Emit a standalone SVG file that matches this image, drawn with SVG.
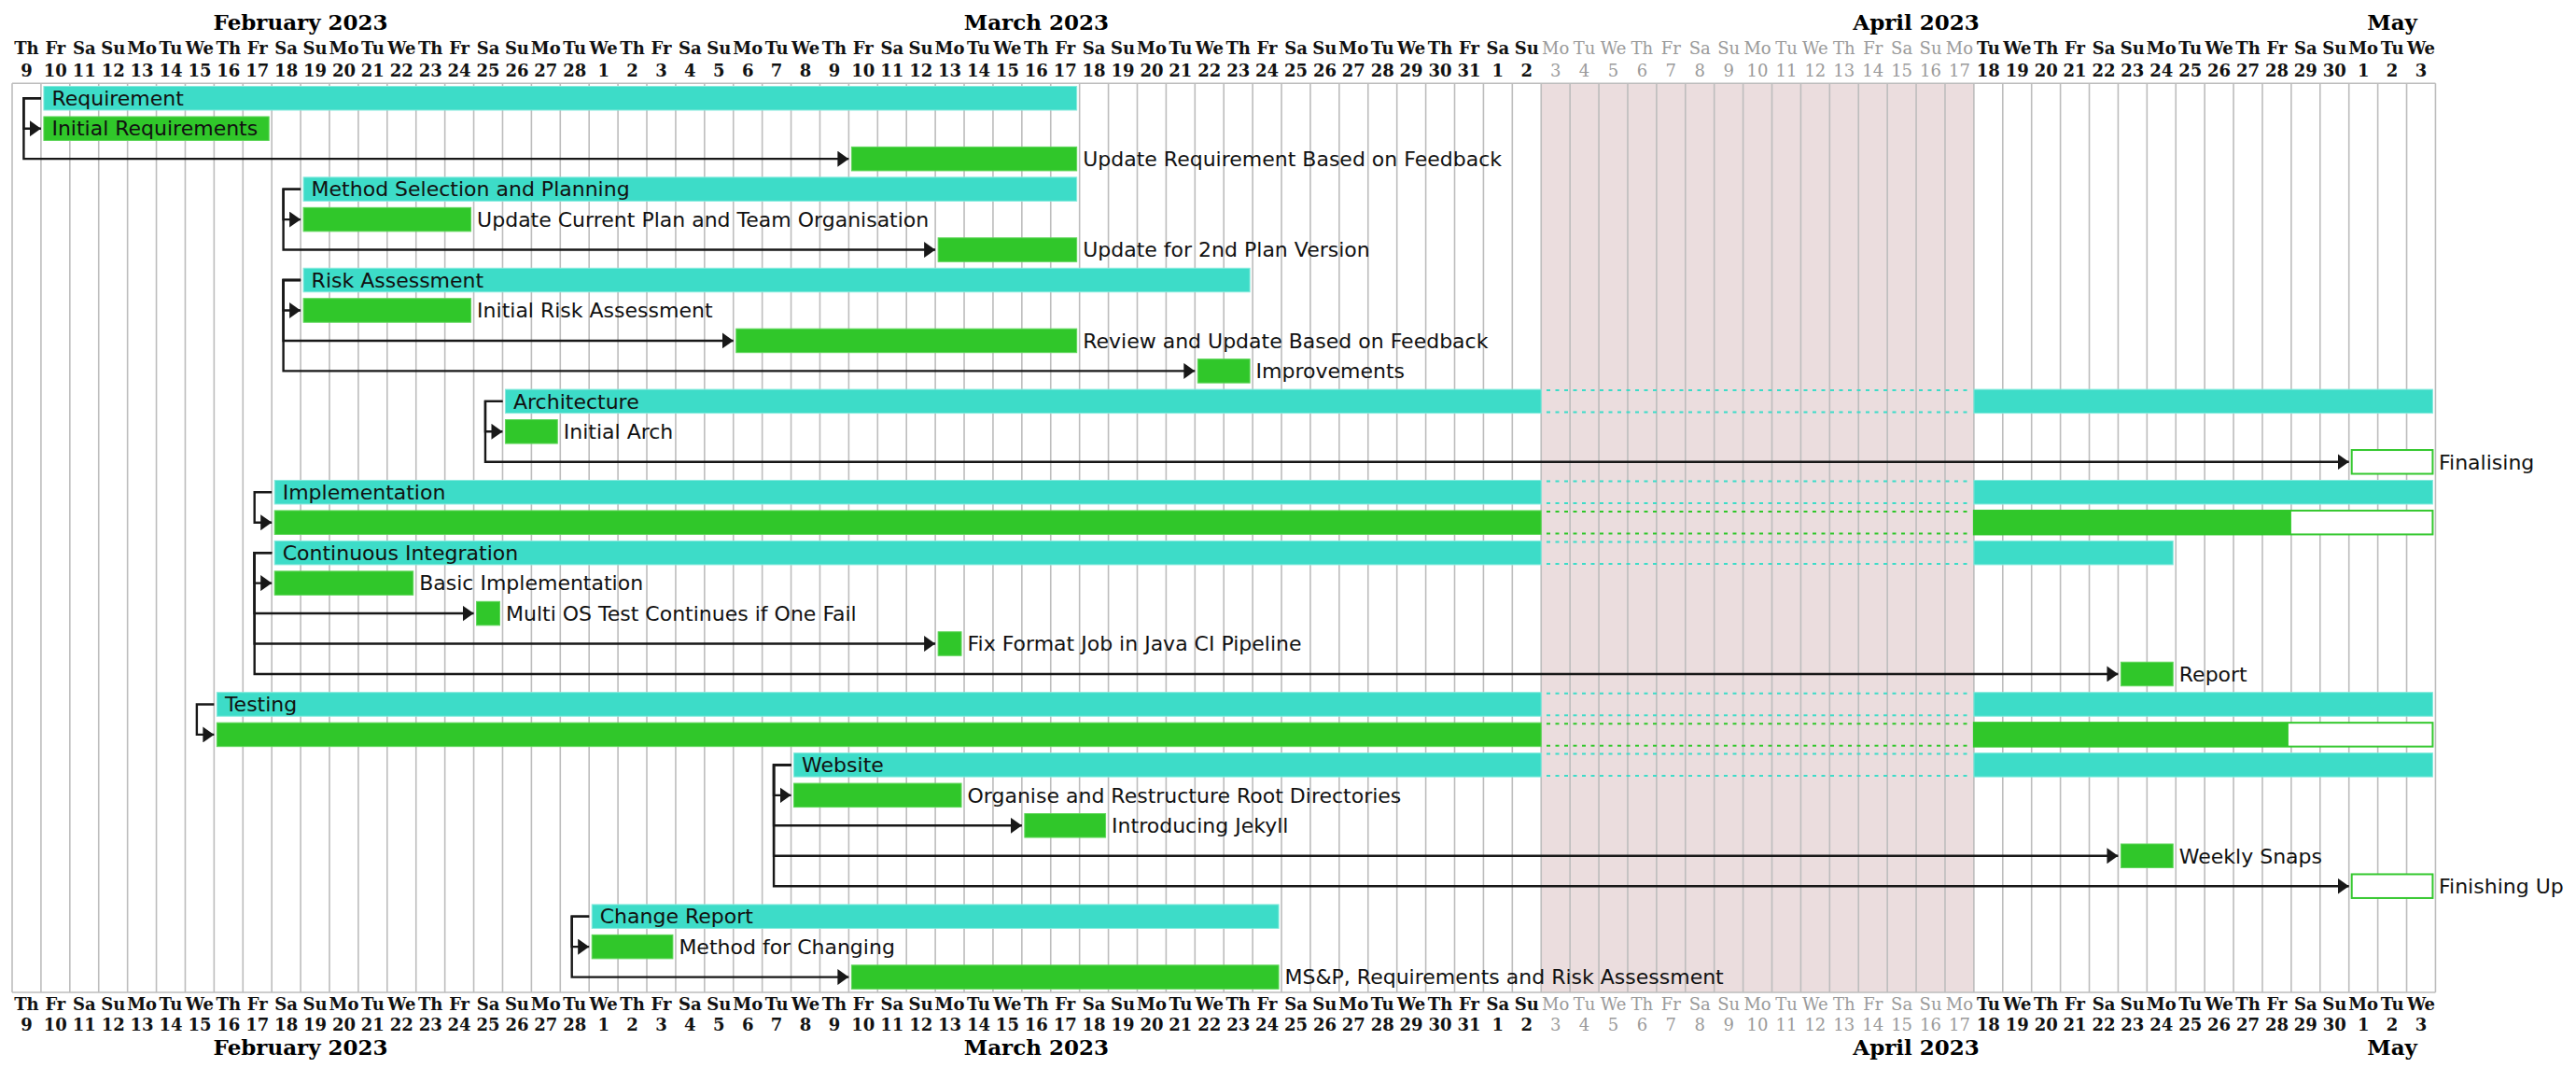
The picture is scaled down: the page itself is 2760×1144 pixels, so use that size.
<svg xmlns="http://www.w3.org/2000/svg" width="2760" height="1144" viewBox="0 0 2760 1144">
<style>
.m{font-family:"DejaVu Serif",serif;font-weight:bold;font-size:23px;text-anchor:middle;fill:#000}
.d{font-family:"DejaVu Serif",serif;font-weight:bold;font-size:18px;text-anchor:middle;fill:#111}
.dg{font-family:"DejaVu Serif",serif;font-size:18px;text-anchor:middle;fill:#9a9a9a}
.t{font-family:"DejaVu Sans",sans-serif;font-size:22px;fill:#111}
.p{fill:#3DDCC8;stroke:#86EADD;stroke-width:1}
.c{fill:#30C72A;stroke:#5FD65A;stroke-width:1}
.u{fill:#fff;stroke:#35C82F;stroke-width:2}
.dp{stroke:#3DDCC8;stroke-width:2;stroke-dasharray:4 5.5;fill:none}
.dc{stroke:#30C72A;stroke-width:2;stroke-dasharray:4 5.5;fill:none}
.ln{fill:none;stroke:#181818;stroke-width:2.4;marker-end:url(#ah)}
.grid{fill:none;stroke:#BDBDBD;stroke-width:1.6}
</style>
<defs>
<marker id="ah" viewBox="0 0 12 17" refX="12" refY="8.5" markerWidth="12" markerHeight="17" markerUnits="userSpaceOnUse" orient="auto"><path d="M0 0L12 8.5L0 17z" fill="#181818"/></marker>
</defs>
<rect x="0" y="0" width="2760" height="1144" fill="#fff"/>
<g id="calendar">
<rect x="1651.23" y="89.3" width="463.65" height="973.7" fill="#EBDDDE"/>
<path class="grid" d="M13 89.3V1063M43.91 89.3V1063M74.82 89.3V1063M105.73 89.3V1063M136.64 89.3V1063M167.55 89.3V1063M198.46 89.3V1063M229.37 89.3V1063M260.28 89.3V1063M291.19 89.3V1063M322.1 89.3V1063M353.01 89.3V1063M383.92 89.3V1063M414.83 89.3V1063M445.74 89.3V1063M476.65 89.3V1063M507.56 89.3V1063M538.47 89.3V1063M569.38 89.3V1063M600.29 89.3V1063M631.2 89.3V1063M662.11 89.3V1063M693.02 89.3V1063M723.93 89.3V1063M754.84 89.3V1063M785.75 89.3V1063M816.66 89.3V1063M847.57 89.3V1063M878.48 89.3V1063M909.39 89.3V1063M940.3 89.3V1063M971.21 89.3V1063M1002.12 89.3V1063M1033.03 89.3V1063M1063.94 89.3V1063M1094.85 89.3V1063M1125.76 89.3V1063M1156.67 89.3V1063M1187.58 89.3V1063M1218.49 89.3V1063M1249.4 89.3V1063M1280.31 89.3V1063M1311.22 89.3V1063M1342.13 89.3V1063M1373.04 89.3V1063M1403.95 89.3V1063M1434.86 89.3V1063M1465.77 89.3V1063M1496.68 89.3V1063M1527.59 89.3V1063M1558.5 89.3V1063M1589.41 89.3V1063M1620.32 89.3V1063M1651.23 89.3V1063M1682.14 89.3V1063M1713.05 89.3V1063M1743.96 89.3V1063M1774.87 89.3V1063M1805.78 89.3V1063M1836.69 89.3V1063M1867.6 89.3V1063M1898.51 89.3V1063M1929.42 89.3V1063M1960.33 89.3V1063M1991.24 89.3V1063M2022.15 89.3V1063M2053.06 89.3V1063M2083.97 89.3V1063M2114.88 89.3V1063M2145.79 89.3V1063M2176.7 89.3V1063M2207.61 89.3V1063M2238.52 89.3V1063M2269.43 89.3V1063M2300.34 89.3V1063M2331.25 89.3V1063M2362.16 89.3V1063M2393.07 89.3V1063M2423.98 89.3V1063M2454.89 89.3V1063M2485.8 89.3V1063M2516.71 89.3V1063M2547.62 89.3V1063M2578.53 89.3V1063M2609.44 89.3V1063M13 89.3H2609.44M13 1063H2609.44"/>
<text class="m" y="31.5"><tspan x="322.1">February 2023</tspan><tspan x="1110.3">March 2023</tspan><tspan x="2053.06">April 2023</tspan><tspan x="2563.08">May</tspan></text>
<text class="d" y="58.3"><tspan x="28.46">Th</tspan><tspan x="59.37">Fr</tspan><tspan x="90.28">Sa</tspan><tspan x="121.19">Su</tspan><tspan x="152.1">Mo</tspan><tspan x="183.01">Tu</tspan><tspan x="213.92">We</tspan><tspan x="244.83">Th</tspan><tspan x="275.74">Fr</tspan><tspan x="306.65">Sa</tspan><tspan x="337.56">Su</tspan><tspan x="368.47">Mo</tspan><tspan x="399.38">Tu</tspan><tspan x="430.29">We</tspan><tspan x="461.2">Th</tspan><tspan x="492.11">Fr</tspan><tspan x="523.02">Sa</tspan><tspan x="553.93">Su</tspan><tspan x="584.84">Mo</tspan><tspan x="615.75">Tu</tspan><tspan x="646.66">We</tspan><tspan x="677.57">Th</tspan><tspan x="708.48">Fr</tspan><tspan x="739.39">Sa</tspan><tspan x="770.3">Su</tspan><tspan x="801.21">Mo</tspan><tspan x="832.12">Tu</tspan><tspan x="863.03">We</tspan><tspan x="893.94">Th</tspan><tspan x="924.85">Fr</tspan><tspan x="955.76">Sa</tspan><tspan x="986.67">Su</tspan><tspan x="1017.58">Mo</tspan><tspan x="1048.49">Tu</tspan><tspan x="1079.4">We</tspan><tspan x="1110.31">Th</tspan><tspan x="1141.22">Fr</tspan><tspan x="1172.13">Sa</tspan><tspan x="1203.04">Su</tspan><tspan x="1233.95">Mo</tspan><tspan x="1264.86">Tu</tspan><tspan x="1295.77">We</tspan><tspan x="1326.68">Th</tspan><tspan x="1357.59">Fr</tspan><tspan x="1388.5">Sa</tspan><tspan x="1419.41">Su</tspan><tspan x="1450.32">Mo</tspan><tspan x="1481.23">Tu</tspan><tspan x="1512.14">We</tspan><tspan x="1543.05">Th</tspan><tspan x="1573.96">Fr</tspan><tspan x="1604.87">Sa</tspan><tspan x="1635.78">Su</tspan><tspan x="2130.34">Tu</tspan><tspan x="2161.25">We</tspan><tspan x="2192.16">Th</tspan><tspan x="2223.07">Fr</tspan><tspan x="2253.98">Sa</tspan><tspan x="2284.89">Su</tspan><tspan x="2315.8">Mo</tspan><tspan x="2346.71">Tu</tspan><tspan x="2377.62">We</tspan><tspan x="2408.53">Th</tspan><tspan x="2439.44">Fr</tspan><tspan x="2470.35">Sa</tspan><tspan x="2501.26">Su</tspan><tspan x="2532.17">Mo</tspan><tspan x="2563.08">Tu</tspan><tspan x="2593.99">We</tspan></text>
<text class="dg" y="58.3"><tspan x="1666.69">Mo</tspan><tspan x="1697.6">Tu</tspan><tspan x="1728.51">We</tspan><tspan x="1759.42">Th</tspan><tspan x="1790.33">Fr</tspan><tspan x="1821.24">Sa</tspan><tspan x="1852.15">Su</tspan><tspan x="1883.06">Mo</tspan><tspan x="1913.97">Tu</tspan><tspan x="1944.88">We</tspan><tspan x="1975.79">Th</tspan><tspan x="2006.7">Fr</tspan><tspan x="2037.61">Sa</tspan><tspan x="2068.52">Su</tspan><tspan x="2099.43">Mo</tspan></text>
<text class="d" y="81.7"><tspan x="28.46">9</tspan><tspan x="59.37">10</tspan><tspan x="90.28">11</tspan><tspan x="121.19">12</tspan><tspan x="152.1">13</tspan><tspan x="183.01">14</tspan><tspan x="213.92">15</tspan><tspan x="244.83">16</tspan><tspan x="275.74">17</tspan><tspan x="306.65">18</tspan><tspan x="337.56">19</tspan><tspan x="368.47">20</tspan><tspan x="399.38">21</tspan><tspan x="430.29">22</tspan><tspan x="461.2">23</tspan><tspan x="492.11">24</tspan><tspan x="523.02">25</tspan><tspan x="553.93">26</tspan><tspan x="584.84">27</tspan><tspan x="615.75">28</tspan><tspan x="646.66">1</tspan><tspan x="677.57">2</tspan><tspan x="708.48">3</tspan><tspan x="739.39">4</tspan><tspan x="770.3">5</tspan><tspan x="801.21">6</tspan><tspan x="832.12">7</tspan><tspan x="863.03">8</tspan><tspan x="893.94">9</tspan><tspan x="924.85">10</tspan><tspan x="955.76">11</tspan><tspan x="986.67">12</tspan><tspan x="1017.58">13</tspan><tspan x="1048.49">14</tspan><tspan x="1079.4">15</tspan><tspan x="1110.31">16</tspan><tspan x="1141.22">17</tspan><tspan x="1172.13">18</tspan><tspan x="1203.04">19</tspan><tspan x="1233.95">20</tspan><tspan x="1264.86">21</tspan><tspan x="1295.77">22</tspan><tspan x="1326.68">23</tspan><tspan x="1357.59">24</tspan><tspan x="1388.5">25</tspan><tspan x="1419.41">26</tspan><tspan x="1450.32">27</tspan><tspan x="1481.23">28</tspan><tspan x="1512.14">29</tspan><tspan x="1543.05">30</tspan><tspan x="1573.96">31</tspan><tspan x="1604.87">1</tspan><tspan x="1635.78">2</tspan><tspan x="2130.34">18</tspan><tspan x="2161.25">19</tspan><tspan x="2192.16">20</tspan><tspan x="2223.07">21</tspan><tspan x="2253.98">22</tspan><tspan x="2284.89">23</tspan><tspan x="2315.8">24</tspan><tspan x="2346.71">25</tspan><tspan x="2377.62">26</tspan><tspan x="2408.53">27</tspan><tspan x="2439.44">28</tspan><tspan x="2470.35">29</tspan><tspan x="2501.26">30</tspan><tspan x="2532.17">1</tspan><tspan x="2563.08">2</tspan><tspan x="2593.99">3</tspan></text>
<text class="dg" y="81.7"><tspan x="1666.69">3</tspan><tspan x="1697.6">4</tspan><tspan x="1728.51">5</tspan><tspan x="1759.42">6</tspan><tspan x="1790.33">7</tspan><tspan x="1821.24">8</tspan><tspan x="1852.15">9</tspan><tspan x="1883.06">10</tspan><tspan x="1913.97">11</tspan><tspan x="1944.88">12</tspan><tspan x="1975.79">13</tspan><tspan x="2006.7">14</tspan><tspan x="2037.61">15</tspan><tspan x="2068.52">16</tspan><tspan x="2099.43">17</tspan></text>
<text class="d" y="1081.7"><tspan x="28.46">Th</tspan><tspan x="59.37">Fr</tspan><tspan x="90.28">Sa</tspan><tspan x="121.19">Su</tspan><tspan x="152.1">Mo</tspan><tspan x="183.01">Tu</tspan><tspan x="213.92">We</tspan><tspan x="244.83">Th</tspan><tspan x="275.74">Fr</tspan><tspan x="306.65">Sa</tspan><tspan x="337.56">Su</tspan><tspan x="368.47">Mo</tspan><tspan x="399.38">Tu</tspan><tspan x="430.29">We</tspan><tspan x="461.2">Th</tspan><tspan x="492.11">Fr</tspan><tspan x="523.02">Sa</tspan><tspan x="553.93">Su</tspan><tspan x="584.84">Mo</tspan><tspan x="615.75">Tu</tspan><tspan x="646.66">We</tspan><tspan x="677.57">Th</tspan><tspan x="708.48">Fr</tspan><tspan x="739.39">Sa</tspan><tspan x="770.3">Su</tspan><tspan x="801.21">Mo</tspan><tspan x="832.12">Tu</tspan><tspan x="863.03">We</tspan><tspan x="893.94">Th</tspan><tspan x="924.85">Fr</tspan><tspan x="955.76">Sa</tspan><tspan x="986.67">Su</tspan><tspan x="1017.58">Mo</tspan><tspan x="1048.49">Tu</tspan><tspan x="1079.4">We</tspan><tspan x="1110.31">Th</tspan><tspan x="1141.22">Fr</tspan><tspan x="1172.13">Sa</tspan><tspan x="1203.04">Su</tspan><tspan x="1233.95">Mo</tspan><tspan x="1264.86">Tu</tspan><tspan x="1295.77">We</tspan><tspan x="1326.68">Th</tspan><tspan x="1357.59">Fr</tspan><tspan x="1388.5">Sa</tspan><tspan x="1419.41">Su</tspan><tspan x="1450.32">Mo</tspan><tspan x="1481.23">Tu</tspan><tspan x="1512.14">We</tspan><tspan x="1543.05">Th</tspan><tspan x="1573.96">Fr</tspan><tspan x="1604.87">Sa</tspan><tspan x="1635.78">Su</tspan><tspan x="2130.34">Tu</tspan><tspan x="2161.25">We</tspan><tspan x="2192.16">Th</tspan><tspan x="2223.07">Fr</tspan><tspan x="2253.98">Sa</tspan><tspan x="2284.89">Su</tspan><tspan x="2315.8">Mo</tspan><tspan x="2346.71">Tu</tspan><tspan x="2377.62">We</tspan><tspan x="2408.53">Th</tspan><tspan x="2439.44">Fr</tspan><tspan x="2470.35">Sa</tspan><tspan x="2501.26">Su</tspan><tspan x="2532.17">Mo</tspan><tspan x="2563.08">Tu</tspan><tspan x="2593.99">We</tspan></text>
<text class="dg" y="1081.7"><tspan x="1666.69">Mo</tspan><tspan x="1697.6">Tu</tspan><tspan x="1728.51">We</tspan><tspan x="1759.42">Th</tspan><tspan x="1790.33">Fr</tspan><tspan x="1821.24">Sa</tspan><tspan x="1852.15">Su</tspan><tspan x="1883.06">Mo</tspan><tspan x="1913.97">Tu</tspan><tspan x="1944.88">We</tspan><tspan x="1975.79">Th</tspan><tspan x="2006.7">Fr</tspan><tspan x="2037.61">Sa</tspan><tspan x="2068.52">Su</tspan><tspan x="2099.43">Mo</tspan></text>
<text class="d" y="1104"><tspan x="28.46">9</tspan><tspan x="59.37">10</tspan><tspan x="90.28">11</tspan><tspan x="121.19">12</tspan><tspan x="152.1">13</tspan><tspan x="183.01">14</tspan><tspan x="213.92">15</tspan><tspan x="244.83">16</tspan><tspan x="275.74">17</tspan><tspan x="306.65">18</tspan><tspan x="337.56">19</tspan><tspan x="368.47">20</tspan><tspan x="399.38">21</tspan><tspan x="430.29">22</tspan><tspan x="461.2">23</tspan><tspan x="492.11">24</tspan><tspan x="523.02">25</tspan><tspan x="553.93">26</tspan><tspan x="584.84">27</tspan><tspan x="615.75">28</tspan><tspan x="646.66">1</tspan><tspan x="677.57">2</tspan><tspan x="708.48">3</tspan><tspan x="739.39">4</tspan><tspan x="770.3">5</tspan><tspan x="801.21">6</tspan><tspan x="832.12">7</tspan><tspan x="863.03">8</tspan><tspan x="893.94">9</tspan><tspan x="924.85">10</tspan><tspan x="955.76">11</tspan><tspan x="986.67">12</tspan><tspan x="1017.58">13</tspan><tspan x="1048.49">14</tspan><tspan x="1079.4">15</tspan><tspan x="1110.31">16</tspan><tspan x="1141.22">17</tspan><tspan x="1172.13">18</tspan><tspan x="1203.04">19</tspan><tspan x="1233.95">20</tspan><tspan x="1264.86">21</tspan><tspan x="1295.77">22</tspan><tspan x="1326.68">23</tspan><tspan x="1357.59">24</tspan><tspan x="1388.5">25</tspan><tspan x="1419.41">26</tspan><tspan x="1450.32">27</tspan><tspan x="1481.23">28</tspan><tspan x="1512.14">29</tspan><tspan x="1543.05">30</tspan><tspan x="1573.96">31</tspan><tspan x="1604.87">1</tspan><tspan x="1635.78">2</tspan><tspan x="2130.34">18</tspan><tspan x="2161.25">19</tspan><tspan x="2192.16">20</tspan><tspan x="2223.07">21</tspan><tspan x="2253.98">22</tspan><tspan x="2284.89">23</tspan><tspan x="2315.8">24</tspan><tspan x="2346.71">25</tspan><tspan x="2377.62">26</tspan><tspan x="2408.53">27</tspan><tspan x="2439.44">28</tspan><tspan x="2470.35">29</tspan><tspan x="2501.26">30</tspan><tspan x="2532.17">1</tspan><tspan x="2563.08">2</tspan><tspan x="2593.99">3</tspan></text>
<text class="dg" y="1104"><tspan x="1666.69">3</tspan><tspan x="1697.6">4</tspan><tspan x="1728.51">5</tspan><tspan x="1759.42">6</tspan><tspan x="1790.33">7</tspan><tspan x="1821.24">8</tspan><tspan x="1852.15">9</tspan><tspan x="1883.06">10</tspan><tspan x="1913.97">11</tspan><tspan x="1944.88">12</tspan><tspan x="1975.79">13</tspan><tspan x="2006.7">14</tspan><tspan x="2037.61">15</tspan><tspan x="2068.52">16</tspan><tspan x="2099.43">17</tspan></text>
<text class="m" y="1130"><tspan x="322.1">February 2023</tspan><tspan x="1110.3">March 2023</tspan><tspan x="2053.06">April 2023</tspan><tspan x="2563.08">May</tspan></text>
</g>
<g id="task-requirement"><rect class="p" x="46.91" y="92.5" width="1106.76" height="25.5"/><text class="t" x="55.4" y="113">Requirement</text></g>
<g id="task-initial-requirements"><rect class="c" x="46.91" y="124.96" width="241.28" height="25.5"/><text class="t" x="55.4" y="145.46">Initial Requirements</text></g>
<g id="task-update-requirement"><rect class="c" x="912.39" y="157.42" width="241.28" height="25.5"/><text class="t" x="1160.2" y="177.92">Update Requirement Based on Feedback</text></g>
<g id="task-method-selection"><rect class="p" x="325.1" y="189.88" width="828.57" height="25.5"/><text class="t" x="333.6" y="210.38">Method Selection and Planning</text></g>
<g id="task-update-current-plan"><rect class="c" x="325.1" y="222.34" width="179.46" height="25.5"/><text class="t" x="511.1" y="242.84">Update Current Plan and Team Organisation</text></g>
<g id="task-update-2nd-plan"><rect class="c" x="1005.12" y="254.8" width="148.55" height="25.5"/><text class="t" x="1160.2" y="275.3">Update for 2nd Plan Version</text></g>
<g id="task-risk-assessment"><rect class="p" x="325.1" y="287.26" width="1014.03" height="25.5"/><text class="t" x="333.6" y="307.76">Risk Assessment</text></g>
<g id="task-initial-risk"><rect class="c" x="325.1" y="319.72" width="179.46" height="25.5"/><text class="t" x="511.1" y="340.22">Initial Risk Assessment</text></g>
<g id="task-review-update"><rect class="c" x="788.75" y="352.18" width="364.92" height="25.5"/><text class="t" x="1160.2" y="372.68">Review and Update Based on Feedback</text></g>
<g id="task-improvements"><rect class="c" x="1283.31" y="384.64" width="55.82" height="25.5"/><text class="t" x="1345.6" y="405.14">Improvements</text></g>
<g id="task-architecture"><rect class="p" x="541.47" y="417.1" width="1109.76" height="25.5"/><path class="dp" d="M1657 418.1H2109M1657 441.6H2109"/><rect class="p" x="2114.88" y="417.1" width="491.56" height="25.5"/><text class="t" x="550" y="437.6">Architecture</text></g>
<g id="task-initial-arch"><rect class="c" x="541.47" y="449.56" width="55.82" height="25.5"/><text class="t" x="603.8" y="470.06">Initial Arch</text></g>
<g id="task-finalising"><rect class="u" x="2519.71" y="482.02" width="86.73" height="25.5"/><text class="t" x="2613" y="502.52">Finalising</text></g>
<g id="task-implementation"><rect class="p" x="294.19" y="514.48" width="1357.04" height="25.5"/><path class="dp" d="M1657 515.48H2109M1657 538.98H2109"/><rect class="p" x="2114.88" y="514.48" width="491.56" height="25.5"/><text class="t" x="302.7" y="534.98">Implementation</text></g>
<g id="task-implementation-work"><rect class="c" x="294.19" y="546.94" width="1357.04" height="25.5"/><path class="dc" d="M1657 547.94H2109M1657 571.44H2109"/><rect class="u" x="2114.88" y="546.94" width="491.56" height="25.5"/><rect x="2114.88" y="546.94" width="340.01" height="25.5" fill="#30C72A"/></g>
<g id="task-continuous-integration"><rect class="p" x="294.19" y="579.4" width="1357.04" height="25.5"/><path class="dp" d="M1657 580.4H2109M1657 603.9H2109"/><rect class="p" x="2114.88" y="579.4" width="213.37" height="25.5"/><text class="t" x="302.7" y="599.9">Continuous Integration</text></g>
<g id="task-basic-implementation"><rect class="c" x="294.19" y="611.86" width="148.55" height="25.5"/><text class="t" x="449.2" y="632.36">Basic Implementation</text></g>
<g id="task-multi-os"><rect class="c" x="510.56" y="644.32" width="24.91" height="25.5"/><text class="t" x="542" y="664.82">Multi OS Test Continues if One Fail</text></g>
<g id="task-fix-format"><rect class="c" x="1005.12" y="676.78" width="24.91" height="25.5"/><text class="t" x="1036.5" y="697.28">Fix Format Job in Java CI Pipeline</text></g>
<g id="task-report"><rect class="c" x="2272.43" y="709.24" width="55.82" height="25.5"/><text class="t" x="2334.8" y="729.74">Report</text></g>
<g id="task-testing"><rect class="p" x="232.37" y="741.7" width="1418.86" height="25.5"/><path class="dp" d="M1657 742.7H2109M1657 766.2H2109"/><rect class="p" x="2114.88" y="741.7" width="491.56" height="25.5"/><text class="t" x="240.9" y="762.2">Testing</text></g>
<g id="task-testing-work"><rect class="c" x="232.37" y="774.16" width="1418.86" height="25.5"/><path class="dc" d="M1657 775.16H2109M1657 798.66H2109"/><rect class="u" x="2114.88" y="774.16" width="491.56" height="25.5"/><rect x="2114.88" y="774.16" width="337" height="25.5" fill="#30C72A"/></g>
<g id="task-website"><rect class="p" x="850.57" y="806.62" width="800.66" height="25.5"/><path class="dp" d="M1657 807.62H2109M1657 831.12H2109"/><rect class="p" x="2114.88" y="806.62" width="491.56" height="25.5"/><text class="t" x="859.1" y="827.12">Website</text></g>
<g id="task-organise"><rect class="c" x="850.57" y="839.08" width="179.46" height="25.5"/><text class="t" x="1036.5" y="859.58">Organise and Restructure Root Directories</text></g>
<g id="task-jekyll"><rect class="c" x="1097.85" y="871.54" width="86.73" height="25.5"/><text class="t" x="1191.1" y="892.04">Introducing Jekyll</text></g>
<g id="task-weekly-snaps"><rect class="c" x="2272.43" y="904" width="55.82" height="25.5"/><text class="t" x="2334.8" y="924.5">Weekly Snaps</text></g>
<g id="task-finishing-up"><rect class="u" x="2519.71" y="936.46" width="86.73" height="25.5"/><text class="t" x="2613" y="956.96">Finishing Up</text></g>
<g id="task-change-report"><rect class="p" x="634.2" y="968.92" width="735.84" height="25.5"/><text class="t" x="642.7" y="989.42">Change Report</text></g>
<g id="task-method-changing"><rect class="c" x="634.2" y="1001.38" width="86.73" height="25.5"/><text class="t" x="727.4" y="1021.88">Method for Changing</text></g>
<g id="task-msp"><rect class="c" x="912.39" y="1033.84" width="457.65" height="25.5"/><text class="t" x="1376.5" y="1054.34">MS&amp;P, Requirements and Risk Assessment</text></g>
<g id="connectors">
<path class="ln" d="M43.91 105.25H25.41V137.71H43.91"/>
<path class="ln" d="M43.91 105.25H25.41V170.17H909.39"/>
<path class="ln" d="M322.1 202.63H303.6V235.09H322.1"/>
<path class="ln" d="M322.1 202.63H303.6V267.55H1002.12"/>
<path class="ln" d="M322.1 300.01H303.6V332.47H322.1"/>
<path class="ln" d="M322.1 300.01H303.6V364.93H785.75"/>
<path class="ln" d="M322.1 300.01H303.6V397.39H1280.31"/>
<path class="ln" d="M538.47 429.85H519.97V462.31H538.47"/>
<path class="ln" d="M538.47 429.85H519.97V494.77H2516.71"/>
<path class="ln" d="M291.19 527.23H272.69V559.69H291.19"/>
<path class="ln" d="M291.19 592.15H272.69V624.61H291.19"/>
<path class="ln" d="M291.19 592.15H272.69V657.07H507.56"/>
<path class="ln" d="M291.19 592.15H272.69V689.53H1002.12"/>
<path class="ln" d="M291.19 592.15H272.69V721.99H2269.43"/>
<path class="ln" d="M229.37 754.45H210.87V786.91H229.37"/>
<path class="ln" d="M847.57 819.37H829.07V851.83H847.57"/>
<path class="ln" d="M847.57 819.37H829.07V884.29H1094.85"/>
<path class="ln" d="M847.57 819.37H829.07V916.75H2269.43"/>
<path class="ln" d="M847.57 819.37H829.07V949.21H2516.71"/>
<path class="ln" d="M631.2 981.67H612.7V1014.13H631.2"/>
<path class="ln" d="M631.2 981.67H612.7V1046.59H909.39"/>
</g>
</svg>
